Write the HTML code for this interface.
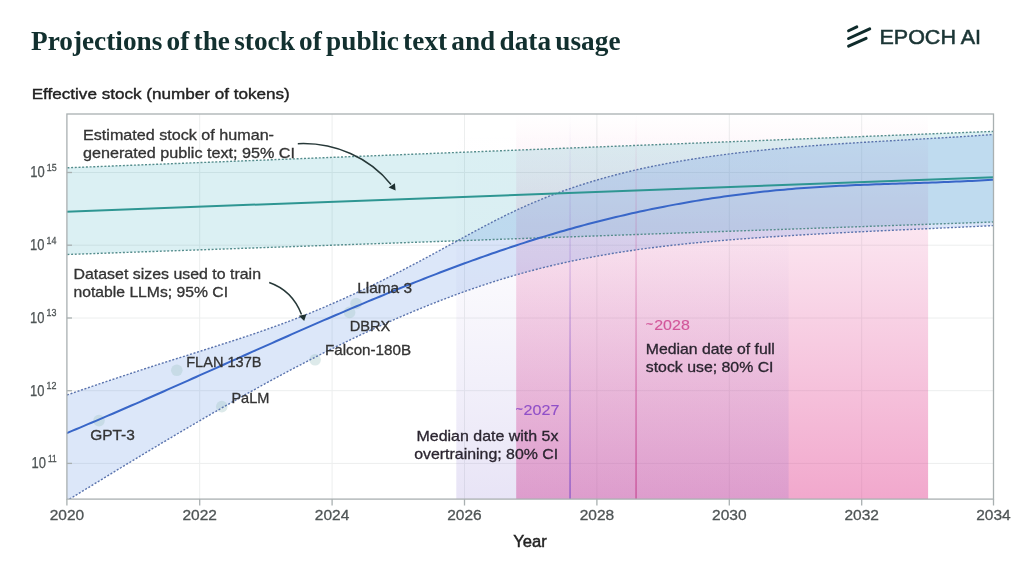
<!DOCTYPE html>
<html><head><meta charset="utf-8"><style>
html,body{margin:0;padding:0;background:#fff;}
body{width:1024px;height:576px;overflow:hidden;position:relative;}
svg{position:absolute;left:0;top:0;}
text{font-family:"Liberation Sans",Arial,sans-serif;}
</style></head><body>
<svg width="1024" height="576" viewBox="0 0 1024 576">
<defs>
<clipPath id="pc"><rect x="66.9" y="114" width="926.6" height="385.1"/></clipPath>
<linearGradient id="gpink" x1="0" y1="0" x2="0" y2="1">
<stop offset="0" stop-color="#e13e8f" stop-opacity="0"/>
<stop offset="1" stop-color="#e13e8f" stop-opacity="0.45"/>
</linearGradient>
<linearGradient id="gpurp" x1="0" y1="0" x2="0" y2="1">
<stop offset="0" stop-color="#7f69cd" stop-opacity="0"/>
<stop offset="0.3" stop-color="#7f69cd" stop-opacity="0.01"/>
<stop offset="0.5" stop-color="#7f69cd" stop-opacity="0.055"/>
<stop offset="0.75" stop-color="#7f69cd" stop-opacity="0.115"/>
<stop offset="1" stop-color="#7f69cd" stop-opacity="0.18"/>
</linearGradient>
<linearGradient id="gvp" x1="0" y1="0" x2="0" y2="1">
<stop offset="0" stop-color="#7a4cc6" stop-opacity="0"/>
<stop offset="0.2" stop-color="#7a4cc6" stop-opacity="0.12"/>
<stop offset="0.45" stop-color="#7a4cc6" stop-opacity="0.3"/>
<stop offset="1" stop-color="#7a4cc6" stop-opacity="0.85"/>
</linearGradient>
<linearGradient id="gvk" x1="0" y1="0" x2="0" y2="1">
<stop offset="0" stop-color="#c4428e" stop-opacity="0"/>
<stop offset="0.2" stop-color="#c4428e" stop-opacity="0.15"/>
<stop offset="0.45" stop-color="#c4428e" stop-opacity="0.35"/>
<stop offset="1" stop-color="#c4428e" stop-opacity="0.85"/>
</linearGradient>
</defs>
<g stroke="#eceeee" stroke-width="1">
<line x1="199.7" y1="114" x2="199.7" y2="499.1"/>
<line x1="332.1" y1="114" x2="332.1" y2="499.1"/>
<line x1="464.5" y1="114" x2="464.5" y2="499.1"/>
<line x1="596.9" y1="114" x2="596.9" y2="499.1"/>
<line x1="729.3" y1="114" x2="729.3" y2="499.1"/>
<line x1="861.7" y1="114" x2="861.7" y2="499.1"/>
<line x1="66.9" y1="463.4" x2="993.5" y2="463.4"/>
<line x1="66.9" y1="390.7" x2="993.5" y2="390.7"/>
<line x1="66.9" y1="318.0" x2="993.5" y2="318.0"/>
<line x1="66.9" y1="245.2" x2="993.5" y2="245.2"/>
<line x1="66.9" y1="172.5" x2="993.5" y2="172.5"/>
</g>
<g clip-path="url(#pc)">
<rect x="516.2" y="114" width="411.9" height="385.1" fill="url(#gpink)"/>
<rect x="456.3" y="114" width="332.3" height="385.1" fill="url(#gpurp)"/>
<path d="M60,168.08 L1000,131.12 L1000,221.75 L60,254.75 Z" fill="rgb(10,155,175)" fill-opacity="0.145"/>
<path d="M60.0,397.44 L64.0,396.04 L68.0,394.65 L72.0,393.27 L76.0,391.89 L80.0,390.51 L84.0,389.13 L88.0,387.76 L92.0,386.40 L96.0,385.04 L100.0,383.68 L104.0,382.33 L108.0,380.98 L112.0,379.64 L116.0,378.30 L120.0,376.97 L124.0,375.64 L128.0,374.32 L132.0,373.00 L136.0,371.69 L140.0,370.38 L144.0,369.07 L148.0,367.77 L152.0,366.48 L156.0,365.19 L160.0,363.91 L164.0,362.63 L168.0,361.36 L172.0,360.09 L176.0,358.83 L180.0,357.57 L184.0,356.31 L188.0,355.05 L192.0,353.80 L196.0,352.54 L200.0,351.28 L204.0,350.02 L208.0,348.76 L212.0,347.50 L216.0,346.23 L220.0,344.95 L224.0,343.67 L228.0,342.39 L232.0,341.09 L236.0,339.79 L240.0,338.47 L244.0,337.15 L248.0,335.82 L252.0,334.47 L256.0,333.11 L260.0,331.74 L264.0,330.35 L268.0,328.95 L272.0,327.53 L276.0,326.09 L280.0,324.64 L284.0,323.17 L288.0,321.67 L292.0,320.16 L296.0,318.63 L300.0,317.07 L304.0,315.50 L308.0,313.89 L312.0,312.27 L316.0,310.63 L320.0,308.96 L324.0,307.27 L328.0,305.56 L332.0,303.83 L336.0,302.08 L340.0,300.31 L344.0,298.52 L348.0,296.71 L352.0,294.88 L356.0,293.03 L360.0,291.16 L364.0,289.27 L368.0,287.37 L372.0,285.45 L376.0,283.51 L380.0,281.55 L384.0,279.57 L388.0,277.58 L392.0,275.57 L396.0,273.55 L400.0,271.51 L404.0,269.45 L408.0,267.38 L412.0,265.29 L416.0,263.19 L420.0,261.08 L424.0,258.95 L428.0,256.81 L432.0,254.65 L436.0,252.48 L440.0,250.30 L444.0,248.11 L448.0,245.92 L452.0,243.73 L456.0,241.54 L460.0,239.35 L464.0,237.16 L468.0,234.99 L472.0,232.82 L476.0,230.66 L480.0,228.53 L484.0,226.40 L488.0,224.30 L492.0,222.23 L496.0,220.17 L500.0,218.15 L504.0,216.15 L508.0,214.19 L512.0,212.27 L516.0,210.38 L520.0,208.53 L524.0,206.72 L528.0,204.95 L532.0,203.22 L536.0,201.52 L540.0,199.87 L544.0,198.25 L548.0,196.66 L552.0,195.12 L556.0,193.60 L560.0,192.13 L564.0,190.68 L568.0,189.27 L572.0,187.90 L576.0,186.55 L580.0,185.24 L584.0,183.96 L588.0,182.71 L592.0,181.49 L596.0,180.30 L600.0,179.14 L604.0,178.01 L608.0,176.90 L612.0,175.82 L616.0,174.77 L620.0,173.75 L624.0,172.75 L628.0,171.78 L632.0,170.83 L636.0,169.91 L640.0,169.01 L644.0,168.13 L648.0,167.28 L652.0,166.45 L656.0,165.64 L660.0,164.85 L664.0,164.08 L668.0,163.33 L672.0,162.59 L676.0,161.88 L680.0,161.19 L684.0,160.51 L688.0,159.85 L692.0,159.21 L696.0,158.58 L700.0,157.97 L704.0,157.37 L708.0,156.79 L712.0,156.22 L716.0,155.67 L720.0,155.13 L724.0,154.60 L728.0,154.08 L732.0,153.58 L736.0,153.09 L740.0,152.62 L744.0,152.15 L748.0,151.70 L752.0,151.25 L756.0,150.82 L760.0,150.40 L764.0,149.99 L768.0,149.59 L772.0,149.20 L776.0,148.82 L780.0,148.45 L784.0,148.09 L788.0,147.73 L792.0,147.39 L796.0,147.05 L800.0,146.72 L804.0,146.40 L808.0,146.09 L812.0,145.78 L816.0,145.48 L820.0,145.19 L824.0,144.90 L828.0,144.62 L832.0,144.34 L836.0,144.07 L840.0,143.80 L844.0,143.54 L848.0,143.29 L852.0,143.03 L856.0,142.78 L860.0,142.54 L864.0,142.30 L868.0,142.06 L872.0,141.82 L876.0,141.59 L880.0,141.36 L884.0,141.13 L888.0,140.90 L892.0,140.67 L896.0,140.44 L900.0,140.22 L904.0,139.99 L908.0,139.77 L912.0,139.54 L916.0,139.32 L920.0,139.09 L924.0,138.86 L928.0,138.63 L932.0,138.40 L936.0,138.17 L940.0,137.94 L944.0,137.70 L948.0,137.46 L952.0,137.22 L956.0,136.97 L960.0,136.72 L964.0,136.47 L968.0,136.21 L972.0,135.95 L976.0,135.68 L980.0,135.41 L984.0,135.13 L988.0,134.85 L992.0,134.56 L996.0,134.27 L1000.0,133.96 L1000.0,225.28 L996.0,225.48 L992.0,225.67 L988.0,225.87 L984.0,226.06 L980.0,226.25 L976.0,226.44 L972.0,226.63 L968.0,226.81 L964.0,227.00 L960.0,227.18 L956.0,227.37 L952.0,227.55 L948.0,227.73 L944.0,227.91 L940.0,228.09 L936.0,228.27 L932.0,228.46 L928.0,228.64 L924.0,228.82 L920.0,229.00 L916.0,229.18 L912.0,229.36 L908.0,229.54 L904.0,229.73 L900.0,229.91 L896.0,230.09 L892.0,230.28 L888.0,230.46 L884.0,230.65 L880.0,230.84 L876.0,231.03 L872.0,231.22 L868.0,231.41 L864.0,231.61 L860.0,231.80 L856.0,232.00 L852.0,232.20 L848.0,232.40 L844.0,232.61 L840.0,232.81 L836.0,233.02 L832.0,233.23 L828.0,233.45 L824.0,233.67 L820.0,233.89 L816.0,234.11 L812.0,234.33 L808.0,234.56 L804.0,234.80 L800.0,235.03 L796.0,235.27 L792.0,235.51 L788.0,235.76 L784.0,236.01 L780.0,236.27 L776.0,236.52 L772.0,236.79 L768.0,237.05 L764.0,237.32 L760.0,237.60 L756.0,237.88 L752.0,238.17 L748.0,238.46 L744.0,238.75 L740.0,239.05 L736.0,239.36 L732.0,239.67 L728.0,239.99 L724.0,240.32 L720.0,240.65 L716.0,240.99 L712.0,241.34 L708.0,241.69 L704.0,242.06 L700.0,242.43 L696.0,242.81 L692.0,243.20 L688.0,243.60 L684.0,244.02 L680.0,244.44 L676.0,244.87 L672.0,245.31 L668.0,245.77 L664.0,246.24 L660.0,246.72 L656.0,247.21 L652.0,247.71 L648.0,248.23 L644.0,248.76 L640.0,249.31 L636.0,249.87 L632.0,250.44 L628.0,251.03 L624.0,251.64 L620.0,252.26 L616.0,252.89 L612.0,253.54 L608.0,254.21 L604.0,254.90 L600.0,255.60 L596.0,256.32 L592.0,257.06 L588.0,257.82 L584.0,258.59 L580.0,259.38 L576.0,260.20 L572.0,261.03 L568.0,261.88 L564.0,262.76 L560.0,263.65 L556.0,264.57 L552.0,265.50 L548.0,266.46 L544.0,267.44 L540.0,268.44 L536.0,269.47 L532.0,270.51 L528.0,271.59 L524.0,272.68 L520.0,273.80 L516.0,274.94 L512.0,276.10 L508.0,277.29 L504.0,278.49 L500.0,279.72 L496.0,280.98 L492.0,282.25 L488.0,283.55 L484.0,284.86 L480.0,286.20 L476.0,287.56 L472.0,288.94 L468.0,290.34 L464.0,291.76 L460.0,293.20 L456.0,294.66 L452.0,296.14 L448.0,297.64 L444.0,299.16 L440.0,300.69 L436.0,302.25 L432.0,303.83 L428.0,305.42 L424.0,307.03 L420.0,308.66 L416.0,310.31 L412.0,311.98 L408.0,313.66 L404.0,315.36 L400.0,317.08 L396.0,318.82 L392.0,320.57 L388.0,322.34 L384.0,324.12 L380.0,325.93 L376.0,327.74 L372.0,329.58 L368.0,331.43 L364.0,333.29 L360.0,335.17 L356.0,337.06 L352.0,338.97 L348.0,340.90 L344.0,342.83 L340.0,344.79 L336.0,346.75 L332.0,348.73 L328.0,350.73 L324.0,352.73 L320.0,354.75 L316.0,356.79 L312.0,358.83 L308.0,360.89 L304.0,362.97 L300.0,365.05 L296.0,367.14 L292.0,369.25 L288.0,371.37 L284.0,373.50 L280.0,375.64 L276.0,377.80 L272.0,379.96 L268.0,382.13 L264.0,384.32 L260.0,386.51 L256.0,388.72 L252.0,390.93 L248.0,393.16 L244.0,395.39 L240.0,397.64 L236.0,399.89 L232.0,402.15 L228.0,404.42 L224.0,406.70 L220.0,408.99 L216.0,411.28 L212.0,413.58 L208.0,415.90 L204.0,418.21 L200.0,420.54 L196.0,422.87 L192.0,425.21 L188.0,427.56 L184.0,429.91 L180.0,432.27 L176.0,434.63 L172.0,437.00 L168.0,439.38 L164.0,441.76 L160.0,444.15 L156.0,446.54 L152.0,448.94 L148.0,451.34 L144.0,453.75 L140.0,456.16 L136.0,458.58 L132.0,461.00 L128.0,463.42 L124.0,465.84 L120.0,468.27 L116.0,470.71 L112.0,473.14 L108.0,475.58 L104.0,478.02 L100.0,480.47 L96.0,482.91 L92.0,485.36 L88.0,487.81 L84.0,490.26 L80.0,492.71 L76.0,495.17 L72.0,497.62 L68.0,500.08 L64.0,502.54 L60.0,504.99 Z" fill="rgb(80,135,225)" fill-opacity="0.2"/>
<rect x="569.4" y="114" width="1.3" height="385.1" fill="url(#gvp)"/>
<rect x="635.4" y="114" width="1.3" height="385.1" fill="url(#gvk)"/>
<g fill="#a5c8c8" fill-opacity="0.38">
<circle cx="99.0" cy="420.6" r="5.8"/>
<circle cx="176.8" cy="370.3" r="5.8"/>
<circle cx="221.8" cy="406.6" r="5.8"/>
<circle cx="315.1" cy="359.8" r="5.8"/>
<circle cx="349.6" cy="312.4" r="5.8"/>
<circle cx="356.1" cy="303.5" r="5.8"/>
</g>
<g fill="none" stroke-linecap="butt">
<path d="M60,168.08 L1000,131.12" stroke="#558d8d" stroke-width="1.4" stroke-dasharray="2 1.7"/>
<path d="M60,254.75 L1000,221.75" stroke="#558d8d" stroke-width="1.4" stroke-dasharray="2 1.7"/>
<path d="M60.0,397.44 L64.0,396.04 L68.0,394.65 L72.0,393.27 L76.0,391.89 L80.0,390.51 L84.0,389.13 L88.0,387.76 L92.0,386.40 L96.0,385.04 L100.0,383.68 L104.0,382.33 L108.0,380.98 L112.0,379.64 L116.0,378.30 L120.0,376.97 L124.0,375.64 L128.0,374.32 L132.0,373.00 L136.0,371.69 L140.0,370.38 L144.0,369.07 L148.0,367.77 L152.0,366.48 L156.0,365.19 L160.0,363.91 L164.0,362.63 L168.0,361.36 L172.0,360.09 L176.0,358.83 L180.0,357.57 L184.0,356.31 L188.0,355.05 L192.0,353.80 L196.0,352.54 L200.0,351.28 L204.0,350.02 L208.0,348.76 L212.0,347.50 L216.0,346.23 L220.0,344.95 L224.0,343.67 L228.0,342.39 L232.0,341.09 L236.0,339.79 L240.0,338.47 L244.0,337.15 L248.0,335.82 L252.0,334.47 L256.0,333.11 L260.0,331.74 L264.0,330.35 L268.0,328.95 L272.0,327.53 L276.0,326.09 L280.0,324.64 L284.0,323.17 L288.0,321.67 L292.0,320.16 L296.0,318.63 L300.0,317.07 L304.0,315.50 L308.0,313.89 L312.0,312.27 L316.0,310.63 L320.0,308.96 L324.0,307.27 L328.0,305.56 L332.0,303.83 L336.0,302.08 L340.0,300.31 L344.0,298.52 L348.0,296.71 L352.0,294.88 L356.0,293.03 L360.0,291.16 L364.0,289.27 L368.0,287.37 L372.0,285.45 L376.0,283.51 L380.0,281.55 L384.0,279.57 L388.0,277.58 L392.0,275.57 L396.0,273.55 L400.0,271.51 L404.0,269.45 L408.0,267.38 L412.0,265.29 L416.0,263.19 L420.0,261.08 L424.0,258.95 L428.0,256.81 L432.0,254.65 L436.0,252.48 L440.0,250.30 L444.0,248.11 L448.0,245.92 L452.0,243.73 L456.0,241.54 L460.0,239.35 L464.0,237.16 L468.0,234.99 L472.0,232.82 L476.0,230.66 L480.0,228.53 L484.0,226.40 L488.0,224.30 L492.0,222.23 L496.0,220.17 L500.0,218.15 L504.0,216.15 L508.0,214.19 L512.0,212.27 L516.0,210.38 L520.0,208.53 L524.0,206.72 L528.0,204.95 L532.0,203.22 L536.0,201.52 L540.0,199.87 L544.0,198.25 L548.0,196.66 L552.0,195.12 L556.0,193.60 L560.0,192.13 L564.0,190.68 L568.0,189.27 L572.0,187.90 L576.0,186.55 L580.0,185.24 L584.0,183.96 L588.0,182.71 L592.0,181.49 L596.0,180.30 L600.0,179.14 L604.0,178.01 L608.0,176.90 L612.0,175.82 L616.0,174.77 L620.0,173.75 L624.0,172.75 L628.0,171.78 L632.0,170.83 L636.0,169.91 L640.0,169.01 L644.0,168.13 L648.0,167.28 L652.0,166.45 L656.0,165.64 L660.0,164.85 L664.0,164.08 L668.0,163.33 L672.0,162.59 L676.0,161.88 L680.0,161.19 L684.0,160.51 L688.0,159.85 L692.0,159.21 L696.0,158.58 L700.0,157.97 L704.0,157.37 L708.0,156.79 L712.0,156.22 L716.0,155.67 L720.0,155.13 L724.0,154.60 L728.0,154.08 L732.0,153.58 L736.0,153.09 L740.0,152.62 L744.0,152.15 L748.0,151.70 L752.0,151.25 L756.0,150.82 L760.0,150.40 L764.0,149.99 L768.0,149.59 L772.0,149.20 L776.0,148.82 L780.0,148.45 L784.0,148.09 L788.0,147.73 L792.0,147.39 L796.0,147.05 L800.0,146.72 L804.0,146.40 L808.0,146.09 L812.0,145.78 L816.0,145.48 L820.0,145.19 L824.0,144.90 L828.0,144.62 L832.0,144.34 L836.0,144.07 L840.0,143.80 L844.0,143.54 L848.0,143.29 L852.0,143.03 L856.0,142.78 L860.0,142.54 L864.0,142.30 L868.0,142.06 L872.0,141.82 L876.0,141.59 L880.0,141.36 L884.0,141.13 L888.0,140.90 L892.0,140.67 L896.0,140.44 L900.0,140.22 L904.0,139.99 L908.0,139.77 L912.0,139.54 L916.0,139.32 L920.0,139.09 L924.0,138.86 L928.0,138.63 L932.0,138.40 L936.0,138.17 L940.0,137.94 L944.0,137.70 L948.0,137.46 L952.0,137.22 L956.0,136.97 L960.0,136.72 L964.0,136.47 L968.0,136.21 L972.0,135.95 L976.0,135.68 L980.0,135.41 L984.0,135.13 L988.0,134.85 L992.0,134.56 L996.0,134.27 L1000.0,133.96" stroke="#5a73ad" stroke-width="1.4" stroke-dasharray="2 1.7"/>
<path d="M60.0,504.99 L64.0,502.54 L68.0,500.08 L72.0,497.62 L76.0,495.17 L80.0,492.71 L84.0,490.26 L88.0,487.81 L92.0,485.36 L96.0,482.91 L100.0,480.47 L104.0,478.02 L108.0,475.58 L112.0,473.14 L116.0,470.71 L120.0,468.27 L124.0,465.84 L128.0,463.42 L132.0,461.00 L136.0,458.58 L140.0,456.16 L144.0,453.75 L148.0,451.34 L152.0,448.94 L156.0,446.54 L160.0,444.15 L164.0,441.76 L168.0,439.38 L172.0,437.00 L176.0,434.63 L180.0,432.27 L184.0,429.91 L188.0,427.56 L192.0,425.21 L196.0,422.87 L200.0,420.54 L204.0,418.21 L208.0,415.90 L212.0,413.58 L216.0,411.28 L220.0,408.99 L224.0,406.70 L228.0,404.42 L232.0,402.15 L236.0,399.89 L240.0,397.64 L244.0,395.39 L248.0,393.16 L252.0,390.93 L256.0,388.72 L260.0,386.51 L264.0,384.32 L268.0,382.13 L272.0,379.96 L276.0,377.80 L280.0,375.64 L284.0,373.50 L288.0,371.37 L292.0,369.25 L296.0,367.14 L300.0,365.05 L304.0,362.97 L308.0,360.89 L312.0,358.83 L316.0,356.79 L320.0,354.75 L324.0,352.73 L328.0,350.73 L332.0,348.73 L336.0,346.75 L340.0,344.79 L344.0,342.83 L348.0,340.90 L352.0,338.97 L356.0,337.06 L360.0,335.17 L364.0,333.29 L368.0,331.43 L372.0,329.58 L376.0,327.74 L380.0,325.93 L384.0,324.12 L388.0,322.34 L392.0,320.57 L396.0,318.82 L400.0,317.08 L404.0,315.36 L408.0,313.66 L412.0,311.98 L416.0,310.31 L420.0,308.66 L424.0,307.03 L428.0,305.42 L432.0,303.83 L436.0,302.25 L440.0,300.69 L444.0,299.16 L448.0,297.64 L452.0,296.14 L456.0,294.66 L460.0,293.20 L464.0,291.76 L468.0,290.34 L472.0,288.94 L476.0,287.56 L480.0,286.20 L484.0,284.86 L488.0,283.55 L492.0,282.25 L496.0,280.98 L500.0,279.72 L504.0,278.49 L508.0,277.29 L512.0,276.10 L516.0,274.94 L520.0,273.80 L524.0,272.68 L528.0,271.59 L532.0,270.51 L536.0,269.47 L540.0,268.44 L544.0,267.44 L548.0,266.46 L552.0,265.50 L556.0,264.57 L560.0,263.65 L564.0,262.76 L568.0,261.88 L572.0,261.03 L576.0,260.20 L580.0,259.38 L584.0,258.59 L588.0,257.82 L592.0,257.06 L596.0,256.32 L600.0,255.60 L604.0,254.90 L608.0,254.21 L612.0,253.54 L616.0,252.89 L620.0,252.26 L624.0,251.64 L628.0,251.03 L632.0,250.44 L636.0,249.87 L640.0,249.31 L644.0,248.76 L648.0,248.23 L652.0,247.71 L656.0,247.21 L660.0,246.72 L664.0,246.24 L668.0,245.77 L672.0,245.31 L676.0,244.87 L680.0,244.44 L684.0,244.02 L688.0,243.60 L692.0,243.20 L696.0,242.81 L700.0,242.43 L704.0,242.06 L708.0,241.69 L712.0,241.34 L716.0,240.99 L720.0,240.65 L724.0,240.32 L728.0,239.99 L732.0,239.67 L736.0,239.36 L740.0,239.05 L744.0,238.75 L748.0,238.46 L752.0,238.17 L756.0,237.88 L760.0,237.60 L764.0,237.32 L768.0,237.05 L772.0,236.79 L776.0,236.52 L780.0,236.27 L784.0,236.01 L788.0,235.76 L792.0,235.51 L796.0,235.27 L800.0,235.03 L804.0,234.80 L808.0,234.56 L812.0,234.33 L816.0,234.11 L820.0,233.89 L824.0,233.67 L828.0,233.45 L832.0,233.23 L836.0,233.02 L840.0,232.81 L844.0,232.61 L848.0,232.40 L852.0,232.20 L856.0,232.00 L860.0,231.80 L864.0,231.61 L868.0,231.41 L872.0,231.22 L876.0,231.03 L880.0,230.84 L884.0,230.65 L888.0,230.46 L892.0,230.28 L896.0,230.09 L900.0,229.91 L904.0,229.73 L908.0,229.54 L912.0,229.36 L916.0,229.18 L920.0,229.00 L924.0,228.82 L928.0,228.64 L932.0,228.46 L936.0,228.27 L940.0,228.09 L944.0,227.91 L948.0,227.73 L952.0,227.55 L956.0,227.37 L960.0,227.18 L964.0,227.00 L968.0,226.81 L972.0,226.63 L976.0,226.44 L980.0,226.25 L984.0,226.06 L988.0,225.87 L992.0,225.67 L996.0,225.48 L1000.0,225.28" stroke="#5a73ad" stroke-width="1.4" stroke-dasharray="2 1.7"/>
<path d="M60,211.86 L1000,176.94" stroke="#2e9692" stroke-width="2"/>
<path d="M60.0,435.87 L64.0,434.23 L68.0,432.57 L72.0,430.91 L76.0,429.24 L80.0,427.57 L84.0,425.89 L88.0,424.20 L92.0,422.51 L96.0,420.81 L100.0,419.11 L104.0,417.40 L108.0,415.68 L112.0,413.96 L116.0,412.24 L120.0,410.51 L124.0,408.77 L128.0,407.04 L132.0,405.29 L136.0,403.55 L140.0,401.80 L144.0,400.04 L148.0,398.28 L152.0,396.52 L156.0,394.76 L160.0,392.99 L164.0,391.22 L168.0,389.45 L172.0,387.68 L176.0,385.90 L180.0,384.12 L184.0,382.34 L188.0,380.56 L192.0,378.77 L196.0,376.99 L200.0,375.20 L204.0,373.41 L208.0,371.62 L212.0,369.84 L216.0,368.05 L220.0,366.26 L224.0,364.47 L228.0,362.68 L232.0,360.89 L236.0,359.10 L240.0,357.31 L244.0,355.52 L248.0,353.73 L252.0,351.95 L256.0,350.16 L260.0,348.38 L264.0,346.60 L268.0,344.82 L272.0,343.04 L276.0,341.27 L280.0,339.49 L284.0,337.72 L288.0,335.96 L292.0,334.19 L296.0,332.43 L300.0,330.67 L304.0,328.92 L308.0,327.17 L312.0,325.42 L316.0,323.67 L320.0,321.93 L324.0,320.20 L328.0,318.47 L332.0,316.74 L336.0,315.02 L340.0,313.31 L344.0,311.59 L348.0,309.89 L352.0,308.19 L356.0,306.49 L360.0,304.81 L364.0,303.12 L368.0,301.45 L372.0,299.78 L376.0,298.11 L380.0,296.46 L384.0,294.81 L388.0,293.17 L392.0,291.53 L396.0,289.90 L400.0,288.29 L404.0,286.67 L408.0,285.07 L412.0,283.47 L416.0,281.89 L420.0,280.31 L424.0,278.74 L428.0,277.18 L432.0,275.63 L436.0,274.08 L440.0,272.55 L444.0,271.03 L448.0,269.51 L452.0,268.01 L456.0,266.52 L460.0,265.03 L464.0,263.56 L468.0,262.10 L472.0,260.65 L476.0,259.21 L480.0,257.78 L484.0,256.36 L488.0,254.95 L492.0,253.56 L496.0,252.18 L500.0,250.81 L504.0,249.45 L508.0,248.11 L512.0,246.77 L516.0,245.45 L520.0,244.15 L524.0,242.85 L528.0,241.57 L532.0,240.30 L536.0,239.05 L540.0,237.81 L544.0,236.59 L548.0,235.38 L552.0,234.18 L556.0,233.00 L560.0,231.83 L564.0,230.68 L568.0,229.54 L572.0,228.42 L576.0,227.31 L580.0,226.22 L584.0,225.14 L588.0,224.07 L592.0,223.03 L596.0,221.99 L600.0,220.97 L604.0,219.97 L608.0,218.98 L612.0,218.00 L616.0,217.04 L620.0,216.10 L624.0,215.17 L628.0,214.25 L632.0,213.35 L636.0,212.46 L640.0,211.59 L644.0,210.73 L648.0,209.89 L652.0,209.06 L656.0,208.24 L660.0,207.44 L664.0,206.65 L668.0,205.88 L672.0,205.12 L676.0,204.38 L680.0,203.65 L684.0,202.94 L688.0,202.24 L692.0,201.55 L696.0,200.88 L700.0,200.22 L704.0,199.57 L708.0,198.94 L712.0,198.33 L716.0,197.73 L720.0,197.14 L724.0,196.57 L728.0,196.01 L732.0,195.46 L736.0,194.93 L740.0,194.41 L744.0,193.91 L748.0,193.42 L752.0,192.94 L756.0,192.48 L760.0,192.03 L764.0,191.59 L768.0,191.17 L772.0,190.77 L776.0,190.37 L780.0,189.99 L784.0,189.63 L788.0,189.27 L792.0,188.94 L796.0,188.61 L800.0,188.30 L804.0,188.00 L808.0,187.71 L812.0,187.44 L816.0,187.18 L820.0,186.93 L824.0,186.69 L828.0,186.47 L832.0,186.25 L836.0,186.04 L840.0,185.84 L844.0,185.65 L848.0,185.47 L852.0,185.29 L856.0,185.12 L860.0,184.96 L864.0,184.80 L868.0,184.65 L872.0,184.51 L876.0,184.36 L880.0,184.22 L884.0,184.09 L888.0,183.96 L892.0,183.83 L896.0,183.70 L900.0,183.57 L904.0,183.44 L908.0,183.32 L912.0,183.19 L916.0,183.06 L920.0,182.93 L924.0,182.80 L928.0,182.67 L932.0,182.53 L936.0,182.39 L940.0,182.25 L944.0,182.10 L948.0,181.95 L952.0,181.79 L956.0,181.62 L960.0,181.45 L964.0,181.27 L968.0,181.09 L972.0,180.89 L976.0,180.69 L980.0,180.48 L984.0,180.26 L988.0,180.03 L992.0,179.78 L996.0,179.53 L1000.0,179.27" stroke="#3866c8" stroke-width="2"/>
</g>
</g>
<g fill="none" stroke="#a9b0b1" stroke-width="1.3">
<rect x="66.9" y="114" width="926.6" height="385.1"/>
<line x1="66.9" y1="499.1" x2="66.9" y2="505.5"/>
<line x1="199.7" y1="499.1" x2="199.7" y2="505.5"/>
<line x1="332.1" y1="499.1" x2="332.1" y2="505.5"/>
<line x1="464.5" y1="499.1" x2="464.5" y2="505.5"/>
<line x1="596.9" y1="499.1" x2="596.9" y2="505.5"/>
<line x1="729.3" y1="499.1" x2="729.3" y2="505.5"/>
<line x1="861.7" y1="499.1" x2="861.7" y2="505.5"/>
<line x1="993.5" y1="499.1" x2="993.5" y2="505.5"/>
<line x1="66.9" y1="463.4" x2="72" y2="463.4"/>
<line x1="66.9" y1="390.7" x2="72" y2="390.7"/>
<line x1="66.9" y1="318.0" x2="72" y2="318.0"/>
<line x1="66.9" y1="245.2" x2="72" y2="245.2"/>
<line x1="66.9" y1="172.5" x2="72" y2="172.5"/>
</g>
<!-- arrows -->
<g fill="none" stroke="#263838" stroke-width="1.5">
<path d="M297.8,143.7 C335,142 370,158 391,184.5"/>
<path d="M269.2,282.5 C285,288 296,300 301.5,314.5"/>
</g>
<g fill="#1e3030">
<path d="M395.6,190.6 L388.6,187.4 L394.9,183.2 Z"/>
<path d="M304.2,321 L298.8,315.8 L306.4,314.2 Z"/>
</g>
<g font-size="14.6" fill="#333" stroke="#333" stroke-width="0.3">
<text x="83" y="140.2" textLength="191" lengthAdjust="spacingAndGlyphs">Estimated stock of human-</text>
<text x="83" y="158.4" textLength="212" lengthAdjust="spacingAndGlyphs">generated public text; 95% CI</text>
<text x="73.5" y="278.6" textLength="187.5" lengthAdjust="spacingAndGlyphs">Dataset sizes used to train</text>
<text x="73.5" y="297.1" textLength="154.5" lengthAdjust="spacingAndGlyphs">notable LLMs; 95% CI</text>
<text x="90.2" y="440.3" textLength="44.6" lengthAdjust="spacingAndGlyphs">GPT-3</text>
<text x="186.2" y="366.9" textLength="75.3" lengthAdjust="spacingAndGlyphs">FLAN 137B</text>
<text x="231.4" y="403.4" textLength="38" lengthAdjust="spacingAndGlyphs">PaLM</text>
<text x="325" y="355.1" textLength="86" lengthAdjust="spacingAndGlyphs">Falcon-180B</text>
<text x="349.7" y="330.8" textLength="40.6" lengthAdjust="spacingAndGlyphs">DBRX</text>
<text x="357.2" y="293.4" textLength="54.8" lengthAdjust="spacingAndGlyphs">Llama 3</text>
<text x="645.8" y="353.9" textLength="129" lengthAdjust="spacingAndGlyphs" fill="#2b2530" stroke="#2b2530">Median date of full</text>
<text x="645.8" y="371.5" textLength="127.7" lengthAdjust="spacingAndGlyphs" fill="#2b2530" stroke="#2b2530">stock use; 80% CI</text>
<text x="416.5" y="441.3" textLength="142" lengthAdjust="spacingAndGlyphs" fill="#2b2530" stroke="#2b2530">Median date with 5x</text>
<text x="414.2" y="459.3" textLength="144" lengthAdjust="spacingAndGlyphs" fill="#2b2530" stroke="#2b2530">overtraining; 80% CI</text>
<text x="646" y="328.2" font-size="11.5" textLength="7" lengthAdjust="spacingAndGlyphs" fill="#d2569a" stroke="#d2569a" stroke-width="0.3">~</text>
<text x="654.2" y="329.8" textLength="35.6" lengthAdjust="spacingAndGlyphs" fill="#d2569a" stroke="#d2569a" stroke-width="0.15">2028</text>
<text x="515.8" y="413.2" font-size="11.5" textLength="7" lengthAdjust="spacingAndGlyphs" fill="#9050c8" stroke="#9050c8" stroke-width="0.3">~</text>
<text x="523.6" y="415.0" textLength="35.8" lengthAdjust="spacingAndGlyphs" fill="#9050c8" stroke="#9050c8" stroke-width="0.15">2027</text>
</g>
<g font-size="15.5" fill="#4f5556" stroke="#4f5556" stroke-width="0.3">
<text x="66.9" y="520.3" text-anchor="middle">2020</text>
<text x="199.7" y="520.3" text-anchor="middle">2022</text>
<text x="332.1" y="520.3" text-anchor="middle">2024</text>
<text x="464.5" y="520.3" text-anchor="middle">2026</text>
<text x="596.9" y="520.3" text-anchor="middle">2028</text>
<text x="729.3" y="520.3" text-anchor="middle">2030</text>
<text x="861.7" y="520.3" text-anchor="middle">2032</text>
<text x="993.5" y="520.3" text-anchor="middle">2034</text>
</g>
<g font-size="15.6" fill="#4f5556" stroke="#4f5556" stroke-width="0.3" text-rendering="geometricPrecision">
<text x="31.6" y="468.2" textLength="14.4" lengthAdjust="spacingAndGlyphs">10</text><text x="47.9" y="461.8" font-size="10.2" textLength="8.6" lengthAdjust="spacingAndGlyphs">11</text>
<text x="30.1" y="395.5" textLength="14.4" lengthAdjust="spacingAndGlyphs">10</text><text x="46.6" y="389.1" font-size="10.2" textLength="9.9" lengthAdjust="spacingAndGlyphs">12</text>
<text x="30.1" y="322.8" textLength="14.4" lengthAdjust="spacingAndGlyphs">10</text><text x="46.6" y="316.4" font-size="10.2" textLength="9.9" lengthAdjust="spacingAndGlyphs">13</text>
<text x="30.0" y="250.0" textLength="14.4" lengthAdjust="spacingAndGlyphs">10</text><text x="46.5" y="243.6" font-size="10.2" textLength="9.9" lengthAdjust="spacingAndGlyphs">14</text>
<text x="30.2" y="177.3" textLength="14.4" lengthAdjust="spacingAndGlyphs">10</text><text x="46.7" y="170.9" font-size="10.2" textLength="9.9" lengthAdjust="spacingAndGlyphs">15</text>
</g>
<text x="530" y="546.9" text-anchor="middle" font-size="16.8" textLength="33.5" lengthAdjust="spacingAndGlyphs" fill="#222" stroke="#222" stroke-width="0.45">Year</text>
<text x="31.7" y="99.2" font-size="15.4" fill="#222" stroke="#222" stroke-width="0.4" textLength="258" lengthAdjust="spacingAndGlyphs">Effective stock (number of tokens)</text>
<text x="31" y="50.0" font-family="Liberation Serif, serif" font-weight="bold" font-size="27.6" fill="#12302f" style="font-family:'Liberation Serif',serif;word-spacing:-2.6px" textLength="589.5" lengthAdjust="spacingAndGlyphs">Projections of the stock of public text and data usage</text>
<g stroke="#0f2b2b" stroke-width="3" stroke-linecap="round">
<line x1="848.6" y1="30.75" x2="856.8" y2="26.9"/>
<line x1="848.6" y1="38.5" x2="869.7" y2="28.8"/>
<line x1="848.6" y1="46.1" x2="866.1" y2="38.3"/>
</g>
<text x="879.5" y="44.1" font-size="21" fill="#1b3535" stroke="#1b3535" stroke-width="0.55" textLength="101.5" lengthAdjust="spacingAndGlyphs">EPOCH AI</text>
</svg>
</body></html>
